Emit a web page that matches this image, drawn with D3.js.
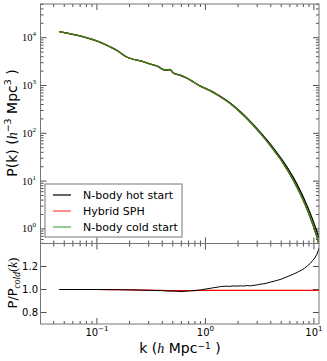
<!DOCTYPE html>
<html><head><meta charset="utf-8">
<script src="https://cdn.jsdelivr.net/npm/d3@7"></script>
<style>
html,body{margin:0;padding:0;background:#fff;}
svg{display:block;}
text{font-family:"DejaVu Sans",sans-serif;fill:#000;}
</style></head>
<body><svg id="c" width="327" height="361"></svg>
<script>
// ---- data ----
const kCold = [0.0449,0.1318,0.1562,0.1812,0.2672,0.3213,0.3673,0.4057,0.4388,0.4709,0.5049,0.582,0.6612,0.7721,0.8898,1.10,1.36,1.68,2.08,2.57,3.18,3.93,4.5,5.21,6.45,7.43,8.3,9.18,10.96,11.14];
const pCold = [13350,6480,5270,4140,3150,2750,2500,2170,2120,2160,1850,1660,1470,1200,985,780,590,424,279,175,102,56.9,37.8,23.6,10.5,5.56,3.19,1.80,0.54,0.47];
const pHot  = [13350,6480,5265,4135,3140,2735,2480,2150,2095,2130,1825,1630,1450,1185,980,788,602,436,288,181,106.5,60.5,40.7,25.8,11.97,6.48,3.8,2.2,0.72,0.64];
const kRatio = [0.0449,0.06,0.08,0.1,0.13,0.16,0.2,0.25,0.3,0.35,0.4,0.45,0.5,0.55,0.6,0.65,0.7,0.77,0.85,0.92,1.0,1.08,1.16,1.25,1.35,1.45,1.55,1.67,1.8,1.95,2.1,2.25,2.4,2.6,2.8,3.0,3.2,3.45,3.7,4.0,4.3,4.6,5.0,5.4,5.8,6.2,6.7,7.2,7.7,8.2,8.7,9.2,9.7,10.2,10.7,11.14];
const rHot = [1.0,1.0,1.0,1.0,0.999,0.998,0.997,0.995,0.993,0.991,0.99,0.987,0.986,0.984,0.982,0.985,0.987,0.99,0.993,0.997,1.004,1.008,1.014,1.018,1.024,1.027,1.029,1.027,1.031,1.029,1.032,1.03,1.034,1.032,1.036,1.04,1.046,1.05,1.056,1.065,1.072,1.08,1.09,1.103,1.115,1.126,1.14,1.155,1.168,1.185,1.205,1.225,1.25,1.275,1.31,1.36];
const rSph = [1.0,1.0,1.0,1.0,0.999,0.998,0.997,0.995,0.994,0.993,0.992,0.991,0.991,0.99,0.99,0.99,0.991,0.991,0.992,0.992,0.993,0.993,0.993,0.993,0.993,0.993,0.993,0.993,0.993,0.993,0.993,0.993,0.993,0.993,0.993,0.993,0.993,0.993,0.993,0.993,0.993,0.993,0.993,0.993,0.993,0.993,0.993,0.993,0.993,0.993,0.993,0.993,0.993,0.993,0.993,0.993];
const seriesNames = ["N-body hot start","Hybrid SPH","N-body cold start"];
const seriesColors = ["#000000","#ff0000","#1a8a1a"];
const xTickVals = [0.1,1,10], xTickExp = ["\u22121","0","1"];
const yTopTickVals = [1,10,100,1000,10000], yTopTickExp = ["0","1","2","3","4"];
const yBotTickVals = [0.8,1.0,1.2], yBotTickLabels = ["0.8","1.0","1.2"];
const xDomain = [0.0302,11.14], yTopDomain = [0.495,50700], yBotDomain = [0.7,1.4];

// ---- layout ----
const L=40.5, R=319, T=4, M=243.5, B=324;
const svg = d3.select("#c");
const x = d3.scaleLog().domain(xDomain).range([L,R]);
const yT = d3.scaleLog().domain(yTopDomain).range([M,T]);
const yB = d3.scaleLinear().domain(yBotDomain).range([B,M]);

const defs = svg.append("defs");
defs.append("clipPath").attr("id","cT").append("rect").attr("x",L).attr("y",T).attr("width",R-L).attr("height",M-T);
defs.append("clipPath").attr("id","cB").append("rect").attr("x",L).attr("y",M).attr("width",R-L).attr("height",B-M);

function minorLog(dom){const out=[];for(let e=-3;e<=6;e++){for(let m=1;m<=9;m++){const v=m*Math.pow(10,e);if(v>=dom[0]&&v<=dom[1])out.push(v);}}return out;}
const xAll = minorLog(xDomain);
const yAll = minorLog(yTopDomain);
function isMajor(v){const l=Math.log10(v);return Math.abs(l-Math.round(l))<1e-9;}

const tk = svg.append("g").attr("stroke","#222").attr("stroke-width",0.8);
[[T,1],[M,-1],[M,1],[B,-1]].forEach(([yy,dir])=>{
  xAll.forEach(v=>{const len=isMajor(v)?6:3;const px=x(v);
    tk.append("line").attr("x1",px).attr("x2",px).attr("y1",yy).attr("y2",yy+dir*len);});
});
yAll.forEach(v=>{const len=isMajor(v)?6:3;const py=yT(v);
  tk.append("line").attr("x1",L).attr("x2",L+len).attr("y1",py).attr("y2",py);
  tk.append("line").attr("x1",R).attr("x2",R-len).attr("y1",py).attr("y2",py);});
yBotTickVals.forEach(v=>{const py=yB(v);
  tk.append("line").attr("x1",L).attr("x2",L+6).attr("y1",py).attr("y2",py);
  tk.append("line").attr("x1",R).attr("x2",R-6).attr("y1",py).attr("y2",py);});

// lines
const lineT = d3.line().x((d)=>x(d[0])).y(d=>yT(d[1])).curve(d3.curveMonotoneX);
const lineB = d3.line().x((d)=>x(d[0])).y(d=>yB(d[1])).curve(d3.curveLinear);
const gT = svg.append("g").attr("clip-path","url(#cT)");
gT.append("path").attr("d",lineT(kCold.map((k,i)=>[k,pHot[i]]))).attr("fill","none").attr("stroke",seriesColors[0]).attr("stroke-width",1.3);
gT.append("path").attr("d",lineT(kCold.map((k,i)=>[k,pCold[i]]))).attr("fill","none").attr("stroke",seriesColors[1]).attr("stroke-width",1.3);
gT.append("path").attr("d",lineT(kCold.map((k,i)=>[k,pCold[i]]))).attr("fill","none").attr("stroke",seriesColors[2]).attr("stroke-width",1.3);
const gB = svg.append("g").attr("clip-path","url(#cB)");
gB.append("path").attr("d",lineB(kRatio.map((k,i)=>[k,rSph[i]]))).attr("fill","none").attr("stroke",seriesColors[1]).attr("stroke-width",1.2);
gB.append("path").attr("d",lineB(kRatio.map((k,i)=>[k,rHot[i]]))).attr("fill","none").attr("stroke",seriesColors[0]).attr("stroke-width",1.0);

// frames
svg.append("rect").attr("x",L).attr("y",T).attr("width",R-L).attr("height",M-T).attr("fill","none").attr("stroke","#777").attr("stroke-width",1);
svg.append("rect").attr("x",L).attr("y",M).attr("width",R-L).attr("height",B-M).attr("fill","none").attr("stroke","#777").attr("stroke-width",1);

// tick labels: x (bottom panel)
xTickVals.forEach((v,i)=>{
  const t = svg.append("text").attr("x",x(v)).attr("y",336).attr("text-anchor","middle").style("font-size","10px");
  t.append("tspan").text("10");
  t.append("tspan").attr("dy",-5).style("font-size","7px").text(xTickExp[i]);
});
// y top labels (serif)
yTopTickVals.forEach((v,i)=>{
  const t = svg.append("text").attr("x",36).attr("y",yT(v)+3.5).attr("text-anchor","end").style("font-family","'Liberation Serif',serif").style("font-size","10.5px");
  t.append("tspan").text("10");
  t.append("tspan").attr("dy",-5).style("font-size","7px").text(yTopTickExp[i]);
});
// y bottom labels
yBotTickVals.forEach((v,i)=>{
  svg.append("text").attr("x",38).attr("y",yB(v)+3.5).attr("text-anchor","end").style("font-size","10px").text(yBotTickLabels[i]);
});

// axis labels
const xl = svg.append("text").attr("x",180).attr("y",353).attr("text-anchor","middle").style("font-size","14px");
xl.append("tspan").text("k (");
xl.append("tspan").style("font-family","'Liberation Serif',serif").style("font-style","italic").text("h");
xl.append("tspan").text(" Mpc");
xl.append("tspan").attr("dy",-4.5).style("font-size","9px").text("\u22121");
xl.append("tspan").attr("dy",4.5).text(" )");

const yl = svg.append("text").attr("transform","translate(17,123) rotate(-90)").attr("text-anchor","middle").style("font-size","14px");
yl.append("tspan").text("P(k) (");
yl.append("tspan").style("font-family","'Liberation Serif',serif").style("font-style","italic").text("h");
yl.append("tspan").attr("dy",-6).style("font-size","9.5px").text("\u22123");
yl.append("tspan").attr("dy",6).text(" Mpc");
yl.append("tspan").attr("dy",-6).style("font-size","9.5px").text("3");
yl.append("tspan").attr("dy",6).text(" )");

const yl2 = svg.append("text").attr("transform","translate(17,283) rotate(-90)").attr("text-anchor","middle").style("font-size","13px");
yl2.append("tspan").text("P/P");
yl2.append("tspan").attr("dy",3).style("font-family","'Liberation Serif',serif").style("font-style","italic").style("font-size","9.5px").text("cold");
yl2.append("tspan").attr("dy",-3).style("font-family","'Liberation Serif',serif").text("(");
yl2.append("tspan").style("font-family","'Liberation Serif',serif").style("font-style","italic").text("k");
yl2.append("tspan").style("font-family","'Liberation Serif',serif").text(")");

// legend
const lg = svg.append("g");
lg.append("rect").attr("x",45).attr("y",184).attr("width",137).attr("height",53).attr("fill","#fff").attr("stroke","#777").attr("stroke-width",1);
seriesNames.forEach((n,i)=>{
  const yy = 195 + i*16;
  lg.append("line").attr("x1",53).attr("x2",71).attr("y1",yy).attr("y2",yy).attr("stroke",seriesColors[i]).attr("stroke-width",1.2).attr("stroke-opacity", i===0?1:0.75);
  lg.append("text").attr("x",83).attr("y",yy+4).style("font-size","11px").text(n);
});
</script></body></html>
